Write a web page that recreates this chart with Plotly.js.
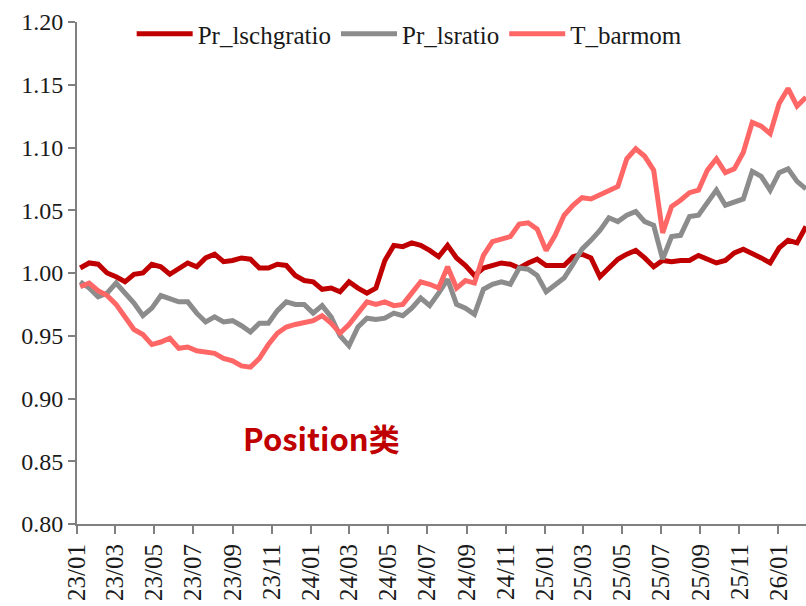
<!DOCTYPE html>
<html>
<head>
<meta charset="utf-8">
<script src="https://cdn.plot.ly/plotly-3.0.1.min.js"></script>
<style>
html,body{margin:0;padding:0;background:#fff;overflow:hidden;}
#chart{width:806px;height:606px;}
</style>
</head>
<body>
<div id="chart"></div>
<script>
// Bi-weekly observation dates, starting 2023-01-06
const startDate = '2023-01-06';
const nPoints = 82;
const stepDays = 14;

const seriesNames = ['Pr_lschgratio', 'Pr_lsratio', 'T_barmom'];

const prLschgratio = [
  1.004,1.008,1.007,1.000,0.997,0.993,0.999,1.000,1.007,1.005,
  0.999,1.004,1.008,1.005,1.012,1.015,1.009,1.010,1.012,1.011,
  1.004,1.004,1.007,1.006,0.998,0.994,0.993,0.987,0.988,0.985,
  0.993,0.988,0.984,0.988,1.010,1.022,1.021,1.024,1.022,1.018,
  1.013,1.022,1.012,1.006,0.998,1.004,1.006,1.008,1.007,1.004,
  1.008,1.011,1.006,1.006,1.006,1.013,1.015,1.012,0.997,1.004,
  1.011,1.015,1.018,1.012,1.005,1.010,1.009,1.010,1.010,1.014,
  1.011,1.008,1.010,1.016,1.019,1.016,1.012,1.008,1.020,1.026,
  1.024,1.037
];

const prLsratio = [
  0.993,0.988,0.981,0.984,0.992,0.984,0.976,0.966,0.972,0.982,
  0.980,0.977,0.977,0.968,0.961,0.965,0.961,0.962,0.958,0.953,
  0.960,0.960,0.970,0.977,0.975,0.975,0.968,0.974,0.965,0.950,
  0.942,0.957,0.964,0.963,0.964,0.968,0.966,0.972,0.980,0.974,
  0.984,0.995,0.975,0.972,0.967,0.987,0.991,0.993,0.991,1.004,
  1.003,0.998,0.985,0.990,0.996,1.007,1.019,1.026,1.034,1.044,
  1.041,1.046,1.049,1.041,1.038,1.011,1.029,1.030,1.045,1.046,
  1.056,1.066,1.054,1.057,1.059,1.081,1.077,1.066,1.080,1.083,
  1.073,1.067
];

const tBarmom = [
  0.989,0.992,0.986,0.982,0.975,0.965,0.955,0.951,0.943,0.945,
  0.948,0.940,0.941,0.938,0.937,0.936,0.932,0.930,0.926,0.925,
  0.932,0.943,0.952,0.957,0.959,0.961,0.962,0.966,0.960,0.952,
  0.959,0.968,0.977,0.975,0.977,0.974,0.975,0.984,0.993,0.991,
  0.988,1.005,0.988,0.994,0.992,1.014,1.025,1.027,1.029,1.039,
  1.040,1.035,1.018,1.030,1.046,1.054,1.060,1.059,1.062,1.066,
  1.069,1.091,1.099,1.093,1.082,1.032,1.053,1.058,1.064,1.066,
  1.082,1.091,1.080,1.083,1.096,1.120,1.117,1.111,1.135,1.147,
  1.133,1.140
];

const yTickVals = [0.80,0.85,0.90,0.95,1.00,1.05,1.10,1.15,1.20];
const annotationText = 'Position类';

function buildDates(start, n, step) {
  const out = [];
  const t0 = Date.parse(start + 'T00:00:00Z');
  for (let i = 0; i < n; i++) {
    const d = new Date(t0 + i * step * 86400000);
    out.push(d.toISOString().slice(0, 10));
  }
  return out;
}
const dates = buildDates(startDate, nPoints, stepDays);

const colors = ['#C00000', '#8C8C8C', '#FF6666'];
const allSeries = [prLschgratio, prLsratio, tBarmom];

const traces = allSeries.map((vals, k) => ({
  x: dates,
  y: vals,
  name: seriesNames[k],
  type: 'scatter',
  mode: 'lines',
  line: {color: colors[k], width: 5},
  hoverinfo: 'skip'
}));

const axisColor = '#808080';
const serif = 'Liberation Serif, DejaVu Serif, serif';
const textColor = '#1a1a1a';

const layout = {
  width: 806,
  height: 606,
  margin: {l: 77, r: 0, t: 22, b: 82, pad: 0},
  paper_bgcolor: '#ffffff',
  plot_bgcolor: '#ffffff',
  font: {family: serif, size: 24, color: textColor},
  showlegend: true,
  legend: {
    orientation: 'h',
    x: 0.075, xanchor: 'left',
    y: 0.976, yanchor: 'middle',
    font: {family: serif, size: 25, color: textColor},
    bgcolor: 'rgba(0,0,0,0)',
    itemwidth: 56,
    tracegroupgap: 0
  },
  xaxis: {
    type: 'date',
    range: ['2023-01-01', dates[dates.length - 1]],
    tick0: '2023-01-01',
    dtick: 'M2',
    tickformat: '%y/%m',
    tickangle: -90,
    ticks: 'outside',
    ticklen: 8,
    tickwidth: 2,
    tickcolor: axisColor,
    showline: true,
    linecolor: axisColor,
    linewidth: 2,
    showgrid: false,
    zeroline: false,
    tickfont: {family: serif, size: 25, color: textColor},
    fixedrange: true
  },
  yaxis: {
    range: [0.80, 1.20],
    tickvals: yTickVals,
    tickformat: '.2f',
    ticks: 'outside',
    ticklen: 7,
    tickwidth: 2,
    tickcolor: axisColor,
    showline: true,
    linecolor: axisColor,
    linewidth: 2,
    showgrid: false,
    zeroline: false,
    tickfont: {family: serif, size: 24, color: textColor},
    fixedrange: true
  },
  annotations: [{
    text: '<b>' + annotationText + '</b>',
    xref: 'paper', yref: 'paper',
    x: 0.335, y: 0.173,
    xanchor: 'center', yanchor: 'middle',
    showarrow: false,
    font: {family: 'Noto Sans CJK SC, Noto Sans, sans-serif', size: 31, color: '#C00000'}
  }]
};

Plotly.newPlot('chart', traces, layout, {staticPlot: true, displayModeBar: false});
</script>
</body>
</html>
